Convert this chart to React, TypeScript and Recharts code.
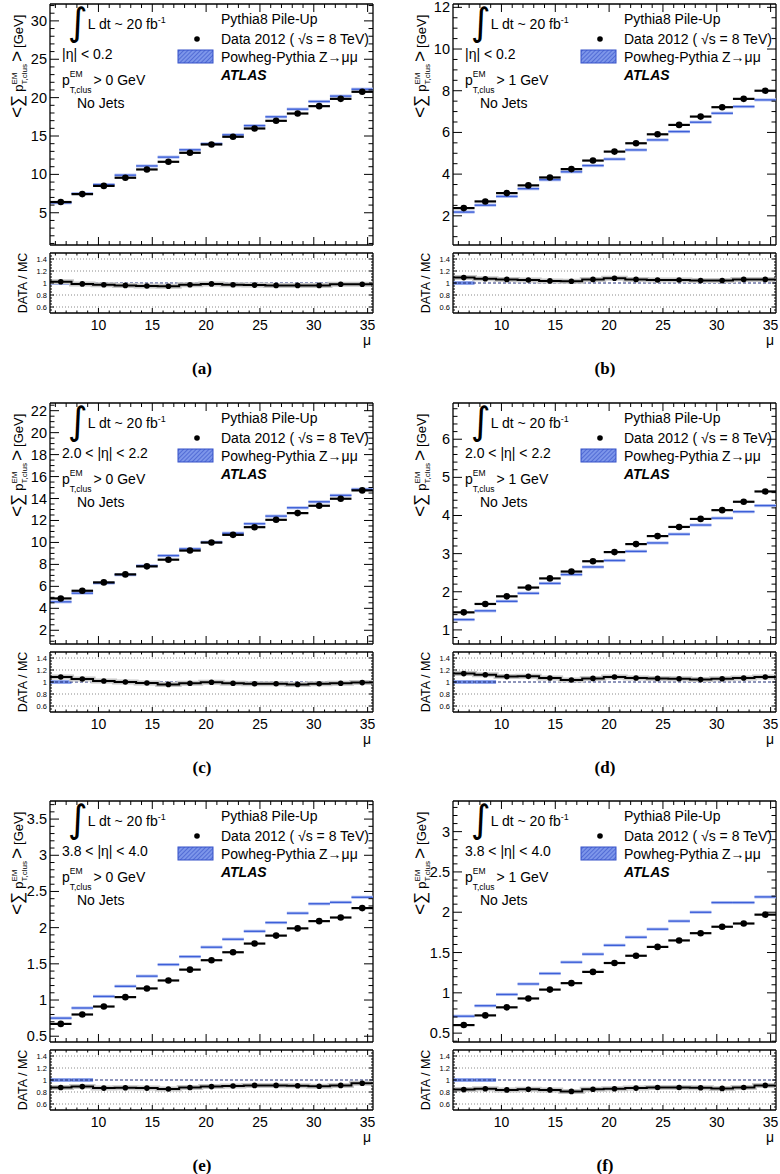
import React from 'react';
import { ComposedChart, Scatter, Line, XAxis, YAxis, ErrorBar, ReferenceLine } from 'recharts';

// ---------- data ----------
const muCenters = [6.5, 8.5, 10.5, 12.5, 14.5, 16.5, 18.5, 20.5, 22.5, 24.5, 26.5, 28.5, 30.5, 32.5, 34.5];
const muEdges = [5.5, 7.5, 9.5, 11.5, 13.5, 15.5, 17.5, 19.5, 21.5, 23.5, 25.5, 27.5, 29.5, 31.5, 33.5, 35.5];
const xMajorTicks = [10, 15, 20, 25, 30, 35];
const ratioMajorTicks = [0.6, 0.8, 1, 1.2, 1.4];
const ratioGrid = [0.6, 0.8, 1.2, 1.4];

const dataA = [6.4, 7.43, 8.5, 9.56, 10.64, 11.64, 12.81, 13.9, 14.9, 15.98, 16.98, 17.93, 18.89, 19.84, 20.76];
const mcA = [6.3, 7.5, 8.67, 9.9, 11.1, 12.25, 13.2, 14.0, 15.15, 16.35, 17.5, 18.5, 19.5, 20.2, 21.1];
const ratioA = [1.02, 0.985, 0.97, 0.96, 0.95, 0.945, 0.97, 0.985, 0.97, 0.965, 0.96, 0.96, 0.96, 0.98, 0.98];

const dataB = [2.37, 2.69, 3.09, 3.46, 3.84, 4.24, 4.65, 5.08, 5.48, 5.91, 6.36, 6.76, 7.21, 7.61, 8.0];
const mcB = [2.18, 2.51, 2.93, 3.3, 3.73, 4.11, 4.41, 4.72, 5.16, 5.64, 6.04, 6.49, 6.92, 7.24, 7.56];
const ratioB = [1.09, 1.07, 1.06, 1.05, 1.035, 1.03, 1.06, 1.08, 1.06, 1.05, 1.05, 1.04, 1.04, 1.06, 1.06];

const dataC = [4.9, 5.6, 6.36, 7.09, 7.82, 8.43, 9.26, 9.99, 10.69, 11.39, 12.06, 12.67, 13.34, 13.98, 14.74];
const mcC = [4.59, 5.38, 6.3, 7.06, 7.88, 8.8, 9.41, 10.02, 10.84, 11.7, 12.4, 13.16, 13.7, 14.29, 14.84];
const ratioC = [1.083, 1.05, 1.017, 1.0, 0.983, 0.96, 0.978, 0.995, 0.978, 0.972, 0.972, 0.96, 0.972, 0.978, 0.99];

const dataD = [1.46, 1.68, 1.88, 2.11, 2.35, 2.53, 2.8, 3.04, 3.25, 3.46, 3.7, 3.91, 4.14, 4.36, 4.63];
const mcD = [1.27, 1.5, 1.75, 1.96, 2.22, 2.45, 2.65, 2.82, 3.06, 3.28, 3.51, 3.75, 3.93, 4.1, 4.26];
const ratioD = [1.14, 1.12, 1.09, 1.094, 1.066, 1.033, 1.06, 1.083, 1.066, 1.06, 1.055, 1.04, 1.055, 1.066, 1.083];

const dataE = [0.67, 0.8, 0.91, 1.04, 1.16, 1.27, 1.42, 1.55, 1.66, 1.78, 1.89, 1.99, 2.09, 2.14, 2.27];
const mcE = [0.75, 0.89, 1.05, 1.19, 1.33, 1.49, 1.6, 1.73, 1.84, 1.95, 2.07, 2.2, 2.33, 2.35, 2.42];
const ratioE = [0.876, 0.89, 0.865, 0.87, 0.865, 0.85, 0.876, 0.89, 0.9, 0.91, 0.91, 0.905, 0.895, 0.91, 0.945];

const dataF = [0.6, 0.72, 0.82, 0.93, 1.04, 1.12, 1.26, 1.37, 1.46, 1.57, 1.65, 1.74, 1.82, 1.86, 1.97];
const mcF = [0.71, 0.84, 0.98, 1.11, 1.24, 1.38, 1.48, 1.59, 1.69, 1.79, 1.89, 2.0, 2.12, 2.12, 2.19];
const ratioF = [0.84, 0.855, 0.835, 0.845, 0.835, 0.81, 0.845, 0.855, 0.865, 0.875, 0.875, 0.87, 0.86, 0.875, 0.91];

const bandA = [6.5];
const bandB = [6.5];
const bandC = [6.5];
const bandD = [6.5, 8.5];
const bandE = [6.5, 8.5];
const bandF = [6.5, 8.5];

const yDomainA = [0.8, 32.2];
const yDomainB = [0.6, 12.16];
const yDomainC = [0.75, 22.7];
const yDomainD = [0.63, 6.95];
const yDomainE = [0.42, 3.75];
const yDomainF = [0.39, 3.38];

const yMajorA = [5, 10, 15, 20, 25, 30];
const yMajorB = [2, 4, 6, 8, 10, 12];
const yMajorC = [2, 4, 6, 8, 10, 12, 14, 16, 18, 20, 22];
const yMajorD = [1, 2, 3, 4, 5, 6];
const yMajorE = [0.5, 1, 1.5, 2, 2.5, 3, 3.5];
const yMajorF = [0.5, 1, 1.5, 2, 2.5, 3];

const etaLabels = ['|η| < 0.2', '|η| < 0.2', '2.0 < |η| < 2.2', '2.0 < |η| < 2.2', '3.8 < |η| < 4.0', '3.8 < |η| < 4.0'];
const cutLabels = ['> 0 GeV', '> 1 GeV', '> 0 GeV', '> 1 GeV', '> 0 GeV', '> 1 GeV'];
const captions = ['(a)', '(b)', '(c)', '(d)', '(e)', '(f)'];

// ---------- layout ----------
const FONT = '"Liberation Sans", Arial, Helvetica, sans-serif';
const colLeft = [50, 453];
const rowTop = [4, 403, 801];
const FW = 323;
const FH = 241;
const RH = 60;
const RGAP = 249;
const ML = 40;
const MR = 8;
const MT = 6;
const MB = 6;
const RB = 24;
const X_DOMAIN = [5.5, 35.5];

function buildTicks(lo: number, hi: number, step: number, majors: number[]) {
  const out = new Set<number>(majors.filter((m) => m > lo && m < hi));
  const start = Math.ceil(lo / step - 1e-9);
  for (let k = start; k * step < hi - 1e-9; k++) {
    const v = Math.round(k * step * 1e6) / 1e6;
    if (v > lo + 1e-9) out.add(v);
  }
  return Array.from(out).sort((a, b) => a - b);
}

const isMajor = (v: number, majors: number[]) => majors.some((m) => Math.abs(m - v) < 1e-6);

function makeYTick(majors: number[], span: number, majorLen: number, minorLen: number, fontSize: number) {
  return (props: any) => {
    const { x, y, payload } = props;
    const v = payload.value;
    const mj = isMajor(v, majors);
    const L = mj ? majorLen : minorLen;
    return (
      <g>
        <line x1={x} x2={x + L} y1={y} y2={y} stroke="#000" strokeWidth={1} />
        <line x1={x + span} x2={x + span - L} y1={y} y2={y} stroke="#000" strokeWidth={1} />
        {mj && (
          <text x={x - 3} y={y} textAnchor="end" dominantBaseline="central" fontSize={fontSize} fontFamily={FONT} fill="#000">
            {String(v)}
          </text>
        )}
      </g>
    );
  };
}

function makeXTick(majors: number[], span: number, majorLen: number, minorLen: number, labels: boolean) {
  return (props: any) => {
    const { x, y, payload } = props;
    const v = payload.value;
    const mj = isMajor(v, majors);
    const L = mj ? majorLen : minorLen;
    return (
      <g>
        <line x1={x} x2={x} y1={y} y2={y - L} stroke="#000" strokeWidth={1} />
        <line x1={x} x2={x} y1={y - span} y2={y - span + L} stroke="#000" strokeWidth={1} />
        {mj && labels && (
          <text x={x} y={y + 12} textAnchor="middle" dominantBaseline="central" fontSize={14} fontFamily={FONT} fill="#000">
            {String(v)}
          </text>
        )}
      </g>
    );
  };
}

const xTicks = buildTicks(X_DOMAIN[0], X_DOMAIN[1], 1, xMajorTicks);
const ratioTicks = buildTicks(0.5, 1.5, 0.05, ratioMajorTicks);

const noShape = () => <g />;
const dotShape = (r: number) => (props: any) => <circle cx={props.cx} cy={props.cy} r={r} fill="#000" />;

type PanelCfg = {
  col: number;
  row: number;
  data: number[];
  mc: number[];
  ratio: number[];
  band: number[];
  yDomain: number[];
  yMajor: number[];
  yMinor: number;
  eta: string;
  cut: string;
  caption: string;
};

const panels: PanelCfg[] = [
  { col: 0, row: 0, data: dataA, mc: mcA, ratio: ratioA, band: bandA, yDomain: yDomainA, yMajor: yMajorA, yMinor: 1, eta: etaLabels[0], cut: cutLabels[0], caption: captions[0] },
  { col: 1, row: 0, data: dataB, mc: mcB, ratio: ratioB, band: bandB, yDomain: yDomainB, yMajor: yMajorB, yMinor: 0.5, eta: etaLabels[1], cut: cutLabels[1], caption: captions[1] },
  { col: 0, row: 1, data: dataC, mc: mcC, ratio: ratioC, band: bandC, yDomain: yDomainC, yMajor: yMajorC, yMinor: 0.5, eta: etaLabels[2], cut: cutLabels[2], caption: captions[2] },
  { col: 1, row: 1, data: dataD, mc: mcD, ratio: ratioD, band: bandD, yDomain: yDomainD, yMajor: yMajorD, yMinor: 0.2, eta: etaLabels[3], cut: cutLabels[3], caption: captions[3] },
  { col: 0, row: 2, data: dataE, mc: mcE, ratio: ratioE, band: bandE, yDomain: yDomainE, yMajor: yMajorE, yMinor: 0.1, eta: etaLabels[4], cut: cutLabels[4], caption: captions[4] },
  { col: 1, row: 2, data: dataF, mc: mcF, ratio: ratioF, band: bandF, yDomain: yDomainF, yMajor: yMajorF, yMinor: 0.1, eta: etaLabels[5], cut: cutLabels[5], caption: captions[5] },
];

const axisLineStyle = { stroke: '#000', strokeWidth: 1.3 };

function MainPlot({ p }: { p: PanelCfg }) {
  const fl = colLeft[p.col];
  const ft = rowTop[p.row];
  const pts = muCenters.map((m, i) => ({ x: m, y: p.data[i], ex: 1 }));
  const mcPts = muCenters.map((m, i) => ({ x: m, y: p.mc[i], ex: 1 }));
  const yTicks = buildTicks(p.yDomain[0], p.yDomain[1], p.yMinor, p.yMajor);
  return (
    <div style={{ position: 'absolute', left: fl - ML, top: ft - MT }}>
      <ComposedChart width={ML + FW + MR} height={MT + FH + MB} margin={{ top: MT, right: MR, bottom: 0, left: 0 }}>
        <XAxis
          type="number"
          dataKey="x"
          domain={X_DOMAIN}
          allowDataOverflow
          ticks={xTicks}
          interval={0}
          height={MB}
          tickSize={0}
          tickMargin={0}
          tickLine={false}
          axisLine={axisLineStyle}
          tick={makeXTick(xMajorTicks, FH, 8, 4, false)}
        />
        <YAxis
          type="number"
          dataKey="y"
          domain={p.yDomain}
          allowDataOverflow
          ticks={yTicks}
          interval={0}
          width={ML}
          tickSize={0}
          tickMargin={0}
          tickLine={false}
          axisLine={axisLineStyle}
          tick={makeYTick(p.yMajor, FW, 9, 4.5, 14.5)}
        />
        <ReferenceLine x={X_DOMAIN[1]} stroke="#000" strokeWidth={1.3} ifOverflow="visible" />
        <ReferenceLine y={p.yDomain[1]} stroke="#000" strokeWidth={1.3} ifOverflow="visible" />
        <Scatter data={mcPts} shape={noShape} isAnimationActive={false}>
          <ErrorBar dataKey="ex" direction="x" width={0} stroke="#b9c6f3" strokeWidth={3.2} isAnimationActive={false} />
        </Scatter>
        <Scatter data={mcPts} shape={noShape} isAnimationActive={false}>
          <ErrorBar dataKey="ex" direction="x" width={0} stroke="#3c5fd8" strokeWidth={1.4} isAnimationActive={false} />
        </Scatter>
        <Scatter data={pts} shape={dotShape(3.3)} isAnimationActive={false}>
          <ErrorBar dataKey="ex" direction="x" width={0} stroke="#000" strokeWidth={2.2} isAnimationActive={false} />
        </Scatter>
      </ComposedChart>
    </div>
  );
}

function RatioPlot({ p }: { p: PanelCfg }) {
  const fl = colLeft[p.col];
  const rt = rowTop[p.row] + RGAP;
  const stepRows = muEdges.map((e, i) => ({ x: e, y: p.ratio[Math.min(i, p.ratio.length - 1)] }));
  const pts = muCenters.map((m, i) => ({ x: m, y: p.ratio[i] }));
  const bandPts = p.band.map((m) => ({ x: m, y: 1, ex: 1 }));
  return (
    <div style={{ position: 'absolute', left: fl - ML, top: rt - MT }}>
      <ComposedChart width={ML + FW + MR} height={MT + RH + RB} margin={{ top: MT, right: MR, bottom: 0, left: 0 }} data={stepRows}>
        <XAxis
          type="number"
          dataKey="x"
          domain={X_DOMAIN}
          allowDataOverflow
          ticks={xTicks}
          interval={0}
          height={RB}
          tickSize={0}
          tickMargin={0}
          tickLine={false}
          axisLine={axisLineStyle}
          tick={makeXTick(xMajorTicks, RH, 5, 2.5, true)}
        />
        <YAxis
          type="number"
          dataKey="y"
          domain={[0.5, 1.5]}
          allowDataOverflow
          ticks={ratioTicks}
          interval={0}
          width={ML}
          tickSize={0}
          tickMargin={0}
          tickLine={false}
          axisLine={axisLineStyle}
          tick={makeYTick(ratioMajorTicks, FW, 4, 2, 7.5)}
        />
        {ratioGrid.map((g) => (
          <ReferenceLine key={g} y={g} stroke="#8a8a8a" strokeWidth={1} strokeDasharray="1 2" />
        ))}
        <Scatter data={bandPts} shape={noShape} isAnimationActive={false}>
          <ErrorBar dataKey="ex" direction="x" width={0} stroke="#6f8be6" strokeWidth={3.5} isAnimationActive={false} />
        </Scatter>
        <ReferenceLine y={1} stroke="#1f2c78" strokeWidth={1} strokeDasharray="3 2" />
        <ReferenceLine x={X_DOMAIN[1]} stroke="#000" strokeWidth={1.3} ifOverflow="visible" />
        <ReferenceLine y={1.5} stroke="#000" strokeWidth={1.3} ifOverflow="visible" />
        <Line type="stepAfter" dataKey="y" stroke="#c8c8c8" strokeWidth={5} dot={false} isAnimationActive={false} />
        <Line type="stepAfter" dataKey="y" stroke="#000" strokeWidth={2} dot={false} isAnimationActive={false} />
        <Scatter data={pts} shape={dotShape(2.8)} isAnimationActive={false} />
      </ComposedChart>
    </div>
  );
}

function PanelText({ p }: { p: PanelCfg }) {
  const fl = colLeft[p.col];
  const ft = rowTop[p.row];
  const rb = ft + RGAP + RH;
  const lx = fl + 171;
  return (
    <g fontFamily={FONT} fill="#000">
      <text transform={`translate(${fl - 27},${ft + 114}) rotate(-90)`} fontSize={13}>
        <tspan fontSize={19}>&lt;</tspan>
        <tspan fontSize={17}>∑</tspan>
        <tspan dx={3}>p</tspan>
        <tspan fontSize={8} dy={-6}>EM</tspan>
        <tspan fontSize={8} dx={-12} dy={10}>T,clus</tspan>
        <tspan fontSize={19} dy={-4} dx={2}>&gt;</tspan>
        <tspan dx={3}>[GeV]</tspan>
      </text>
      <text transform={`translate(${fl - 27},${ft + RGAP + RH / 2}) rotate(-90)`} fontSize={12.5} textAnchor="middle" dominantBaseline="central">
        DATA / MC
      </text>
      <text x={fl + 18} y={ft + 31} fontSize={14}>
        <tspan fontSize={38} fontFamily='"DejaVu Sans", sans-serif'>∫</tspan>
        <tspan dy={-6}>L dt ~ 20 fb</tspan>
        <tspan fontSize={9} dy={-6}>-1</tspan>
      </text>
      <text x={fl + 12} y={ft + 55} fontSize={14}>{p.eta}</text>
      <text x={fl + 12} y={ft + 81} fontSize={14}>
        p<tspan fontSize={8.5} dy={-8}>EM</tspan>
        <tspan fontSize={8.5} dx={-12.8} dy={16}>T,clus</tspan>
        <tspan dx={2} dy={-8}>{p.cut}</tspan>
      </text>
      <text x={fl + 27} y={ft + 104} fontSize={14}>No Jets</text>
      <text x={lx} y={ft + 20} fontSize={14}>Pythia8 Pile-Up</text>
      <circle cx={fl + 147} cy={ft + 35} r={2.8} fill="#000" />
      <text x={lx} y={ft + 40} fontSize={14}>Data 2012 ( √s = 8 TeV)</text>
      <rect x={fl + 128} y={ft + 46} width={35} height={13} fill="url(#hatch)" stroke="#3550c8" strokeWidth={1} />
      <text x={lx} y={ft + 58} fontSize={14}>Powheg-Pythia Z→μμ</text>
      <text x={lx} y={ft + 76} fontSize={14} fontWeight="bold" fontStyle="italic">ATLAS</text>
      <text x={fl + FW - 2} y={rb + 32} fontSize={14} textAnchor="end">μ</text>
      <text x={fl + 152} y={rb + 61} fontSize={17} fontWeight="bold" textAnchor="middle" fontFamily='"Liberation Serif", "Times New Roman", serif'>
        {p.caption}
      </text>
    </g>
  );
}

export default function App() {
  return (
    <div style={{ position: 'absolute', left: 0, top: 0, width: 780, height: 1174, background: '#fff', overflow: 'hidden' }}>
      {panels.map((p, i) => (
        <React.Fragment key={i}>
          <MainPlot p={p} />
          <RatioPlot p={p} />
        </React.Fragment>
      ))}
      <svg width={780} height={1174} style={{ position: 'absolute', left: 0, top: 0, pointerEvents: 'none' }}>
        <defs>
          <pattern id="hatch" patternUnits="userSpaceOnUse" width={3} height={3} patternTransform="rotate(45)">
            <rect width={3} height={3} fill="#7d96ea" />
            <line x1={0} y1={0} x2={0} y2={3} stroke="#3550c8" strokeWidth={1.2} />
          </pattern>
        </defs>
        {panels.map((p, i) => (
          <PanelText key={i} p={p} />
        ))}
      </svg>
    </div>
  );
}
